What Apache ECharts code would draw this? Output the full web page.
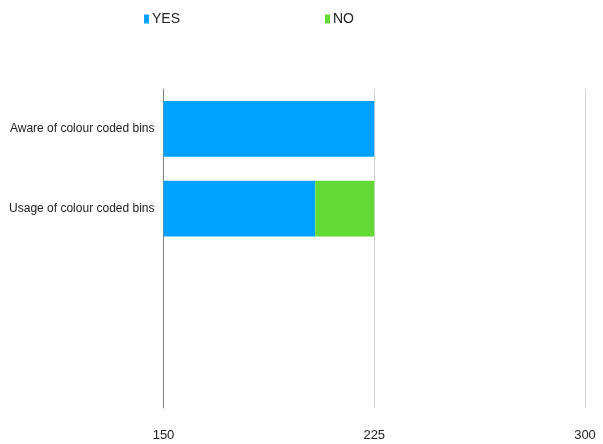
<!DOCTYPE html>
<html>
<head>
<meta charset="utf-8">
<script src="https://cdn.jsdelivr.net/npm/echarts@6/dist/echarts.min.js"></script>
<style>html,body{margin:0;padding:0;background:#fff;}#chart{width:603px;height:444px;}</style>
</head>
<body>
<div id="chart"></div>
<script>
var categories = ['Aware of colour coded bins', 'Usage of colour coded bins', '', ''];
var yesValues = [225, 204, null, null];
var noValues = [0, 21, null, null];
var xTicks = [150, 225, 300];

var FONT = "'Liberation Sans', Arial, sans-serif";
var chart = echarts.init(document.getElementById('chart'), null, {renderer: 'canvas'});
chart.setOption({
  animation: false,
  legend: [
    {data: ['YES'], left: 139, top: 7, icon: 'rect', itemWidth: 5, itemHeight: 9, itemGap: 4,
     textStyle: {fontFamily: FONT, fontSize: 14, color: '#222', padding: [0, 0, 0, -2]}},
    {data: ['NO'], left: 320, top: 7, icon: 'rect', itemWidth: 5, itemHeight: 9, itemGap: 4,
     textStyle: {fontFamily: FONT, fontSize: 14, color: '#222', padding: [0, 0, 0, -2]}}
  ],
  grid: {left: 163.5, right: 18, top: 89, bottom: 36, containLabel: false, outerBoundsMode: 'none'},
  xAxis: {
    type: 'value', min: xTicks[0], max: xTicks[xTicks.length - 1], interval: 75,
    axisLine: {show: false}, axisTick: {show: false},
    splitLine: {show: true, lineStyle: {color: '#d4d4d4', width: 1}},
    axisLabel: {fontFamily: FONT, fontSize: 13, color: '#222', margin: 21}
  },
  yAxis: {
    type: 'category', data: categories, inverse: true,
    axisLine: {show: true, lineStyle: {color: '#808080', width: 1}},
    axisTick: {show: false},
    axisLabel: {fontFamily: FONT, fontSize: 12, color: '#222', margin: 9}
  },
  series: [
    {name: 'YES', type: 'bar', stack: 'a', data: yesValues, barWidth: '70%',
     itemStyle: {color: '#00a2ff'}},
    {name: 'NO', type: 'bar', stack: 'a', data: noValues, barWidth: '70%',
     itemStyle: {color: '#62d935'}}
  ]
});
</script>
</body>
</html>
